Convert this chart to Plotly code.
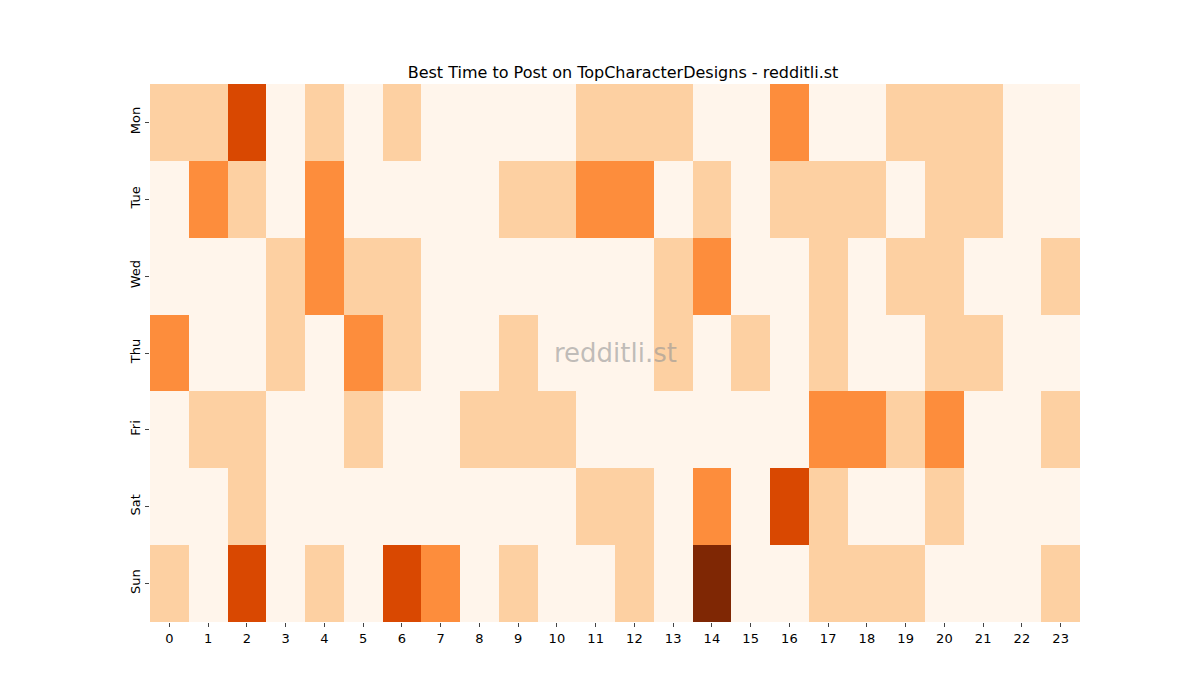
import plotly.graph_objects as go

days = ["Mon", "Tue", "Wed", "Thu", "Fri", "Sat", "Sun"]
hours = list(range(24))
values = [
    [1,1,3,0,1,0,1,0,0,0,0,1,1,1,0,0,2,0,0,1,1,1,0,0],
    [0,2,1,0,2,0,0,0,0,1,1,2,2,0,1,0,1,1,1,0,1,1,0,0],
    [0,0,0,1,2,1,1,0,0,0,0,0,0,1,2,0,0,1,0,1,1,0,0,1],
    [2,0,0,1,0,2,1,0,0,1,0,0,0,1,0,1,0,1,0,0,1,1,0,0],
    [0,1,1,0,0,1,0,0,1,1,1,0,0,0,0,0,0,2,2,1,2,0,0,1],
    [0,0,1,0,0,0,0,0,0,0,0,1,1,0,2,0,3,1,0,0,1,0,0,0],
    [1,0,3,0,1,0,3,2,0,1,0,0,1,0,4,0,0,1,1,1,0,0,0,1],
]
colors = ["#fff5eb", "#fdd0a2", "#fd8d3c", "#d94801", "#7f2704"]
cs = []
for i, c in enumerate(colors):
    cs.append([i / 5, c]); cs.append([(i + 1) / 5, c])

fig = go.Figure(go.Heatmap(z=values, x=hours, y=days, colorscale=cs, zmin=-0.5, zmax=4.5,
                           showscale=False, xgap=0, ygap=0))
fig.update_layout(
    width=1200, height=700, plot_bgcolor="white", paper_bgcolor="white",
    margin=dict(l=142, r=128, t=76, b=86),
    font=dict(family="DejaVu Sans", size=13, color="black"),
    title=dict(text="Best Time to Post on TopCharacterDesigns - redditli.st", x=0.5125, y=0.9, xanchor="center", yanchor="bottom", font=dict(size=16)),
    xaxis=dict(tickmode="array", tickvals=hours, ticks="outside", ticklen=4, showgrid=False, zeroline=False),
    yaxis=dict(autorange="reversed", ticks="outside", ticklen=4, tickangle=-90, showgrid=False, zeroline=False),
    annotations=[dict(text="redditli.st", x=0.5, y=0.5, xref="paper", yref="paper", showarrow=False,
                      font=dict(size=26, color="rgba(150,150,150,0.6)"))],
)
fig.write_html("out.html")
